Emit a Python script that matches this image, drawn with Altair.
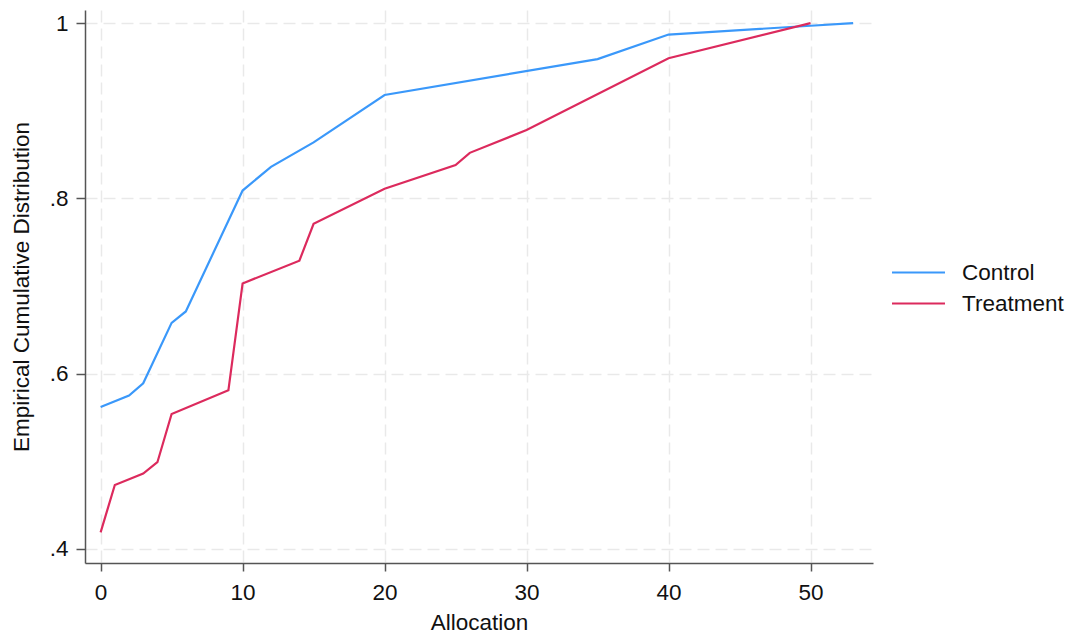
import altair as alt
import pandas as pd

control_x = [0, 2, 3, 5, 6, 10, 12, 15, 20, 35, 40, 50, 53]
control_y = [0.562, 0.575, 0.589, 0.658, 0.671, 0.809, 0.836, 0.864, 0.918, 0.959, 0.987, 0.997, 1.0]

treat_x = [0, 1, 3, 4, 5, 9, 10, 14, 15, 20, 25, 26, 30, 40, 50]
treat_y = [0.419, 0.473, 0.486, 0.499, 0.554, 0.581, 0.703, 0.729, 0.771, 0.811, 0.838, 0.852, 0.878, 0.960, 1.0]

groups = ["Control", "Treatment"]
colors = ["#3a98fa", "#dc2a5d"]
x_ticks = [0, 10, 20, 30, 40, 50]
y_ticks = [0.4, 0.6, 0.8, 1.0]

rows = []
for i, (x, y) in enumerate(zip(control_x, control_y)):
    rows.append({"Allocation": x, "ecdf": y, "group": "Control", "order": i})
for i, (x, y) in enumerate(zip(treat_x, treat_y)):
    rows.append({"Allocation": x, "ecdf": y, "group": "Treatment", "order": i})
df = pd.DataFrame(rows)

FONT = "Liberation Sans"
FS = 22.5

chart = alt.Chart(df).mark_line(strokeWidth=2.2).encode(
    x=alt.X("Allocation:Q",
            scale=alt.Scale(domain=[-1.1, 54.4], nice=False, zero=False),
            axis=alt.Axis(values=x_ticks, title="Allocation", format="d",
                          grid=True, gridDash=[12, 6], gridColor="#e9e9e9", gridWidth=1.5,
                          domainColor="#555555", domainWidth=1.5,
                          tickColor="#555555", tickSize=8, tickWidth=1.5,
                          labelPadding=10, labelFontSize=FS, labelColor="#111111",
                          titleFontSize=FS, titleFontWeight="normal", titleColor="#111111",
                          titlePadding=8, labelFont=FONT, titleFont=FONT)),
    y=alt.Y("ecdf:Q",
            scale=alt.Scale(domain=[0.384, 1.015], nice=False, zero=False),
            axis=alt.Axis(values=y_ticks, title="Empirical Cumulative Distribution",
                          labelExpr="datum.value >= 0.999 ? '1' : '.' + round(datum.value*10)",
                          grid=True, gridDash=[12, 6], gridColor="#e9e9e9", gridWidth=1.5,
                          domainColor="#555555", domainWidth=1.5,
                          tickColor="#555555", tickSize=9, tickWidth=1.5,
                          labelPadding=8, labelFontSize=FS, labelColor="#111111",
                          titleFontSize=FS, titleFontWeight="normal", titleColor="#111111",
                          titlePadding=16, labelFont=FONT, titleFont=FONT)),
    color=alt.Color("group:N",
                    scale=alt.Scale(domain=groups, range=colors),
                    legend=alt.Legend(title=None, orient="none", legendX=819, legendY=248,
                                      symbolType="M-2,0L2,0", symbolSize=702, symbolStrokeWidth=2.2,
                                      labelFontSize=FS, labelFont=FONT, labelColor="#111111",
                                      labelOffset=29, rowPadding=5, padding=0)),
    order="order:Q",
).properties(
    width=788, height=553,
    autosize=alt.AutoSizeParams(type="none"),
    padding={"left": 77, "top": 2, "right": 194, "bottom": 76},
).configure_view(stroke=None)

chart.save("out.html", embed_options={"renderer": "svg", "actions": False})
